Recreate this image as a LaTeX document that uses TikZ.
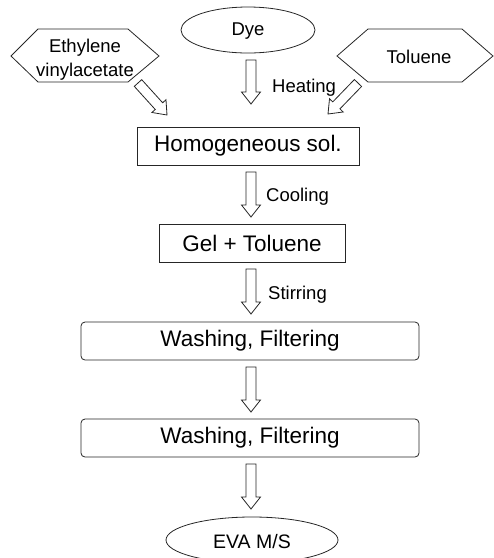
\documentclass[tikz,border=0pt]{standalone}
\usepackage{fontspec}
\setmainfont{Liberation Sans}
\usetikzlibrary{calc,shapes.geometric}
\tikzset{
  ln/.style={line width=0.8pt, draw=black!85},
  hexa/.style={ln},
  boxn/.style={ln, rectangle, font=\fontsize{22.5}{24}\selectfont},
  rbox/.style={boxn, rounded corners=4pt},
  ell/.style={ln, ellipse},
  lbl/.style={font=\fontsize{18.5}{24}\selectfont, inner sep=0pt},
  barrow/.style={ln, fill=white},
}
\newcommand\blockarr[2]{%
  \coordinate (hb) at ($(#2)!12pt!(#1)$);
  \draw[barrow] ($(#1)!5pt!90:(#2)$) -- ($(hb)!5pt!90:(#2)$) -- ($(hb)!9.5pt!90:(#2)$) -- (#2)
    -- ($(hb)!9.5pt!-90:(#2)$) -- ($(hb)!5pt!-90:(#2)$) -- ($(#1)!5pt!-90:(#2)$) -- cycle;}
\begin{document}
\begin{tikzpicture}[x=1pt,y=-1pt]
\useasboundingbox (0,0) rectangle (494,558);
% sources
\draw[hexa] (11,56) -- (38,29) -- (128,29) -- (159,56) -- (128,82) -- (38,82) -- cycle;
\node[lbl, align=center] (eva) at (85,60) {Ethylene\\vinylacetate};
\draw[ell] (248,30) ellipse [x radius=67, y radius=23];
\node[lbl] (dye) at (248,31) {Dye};
\draw[hexa] (337,56) -- (368,29) -- (462,29) -- (493,56) -- (462,82) -- (368,82) -- cycle;
\node[lbl] (tol) at (419,57) {Toluene};
% process boxes
\node[boxn, minimum width=222, minimum height=38] (homo) at (248,146) {Homogeneous sol.};
\node[boxn, minimum width=186, minimum height=38] (gel) at (252,243) {Gel + Toluene};
\node[rbox, minimum width=338, minimum height=38] (wash1) at (250,341) {Washing, Filtering};
\node[rbox, minimum width=338, minimum height=38] (wash2) at (250,438) {Washing, Filtering};
\draw[ell] (252,540) ellipse [x radius=86, y radius=23];
\node[lbl, font=\fontsize{19.5}{24}\selectfont] (out) at (252,542) {EVA M/S};
% connector end points
\coordinate (a1s) at (138,83); \coordinate (a1e) at (167,115);
\coordinate (a2s) at (251,60); \coordinate (a2e) at (251,104);
\coordinate (a3s) at (358,83); \coordinate (a3e) at (328,114);
\coordinate (a4s) at (251,172); \coordinate (a4e) at (251,217);
\coordinate (a5s) at (251,269); \coordinate (a5e) at (251,314);
\coordinate (a6s) at (251,367); \coordinate (a6e) at (251,412);
\coordinate (a7s) at (251,464); \coordinate (a7e) at (251,509);
\blockarr{a1s}{a1e}
\blockarr{a2s}{a2e}
\blockarr{a3s}{a3e}
\blockarr{a4s}{a4e}
\blockarr{a5s}{a5e}
\blockarr{a6s}{a6e}
\blockarr{a7s}{a7e}
% labels
\node[lbl, anchor=west] (heat) at (272,88) {Heating};
\node[lbl, anchor=west] (cool) at (266,197) {Cooling};
\node[lbl, anchor=west] (stir) at (268,295) {Stirring};
\end{tikzpicture}
\end{document}
